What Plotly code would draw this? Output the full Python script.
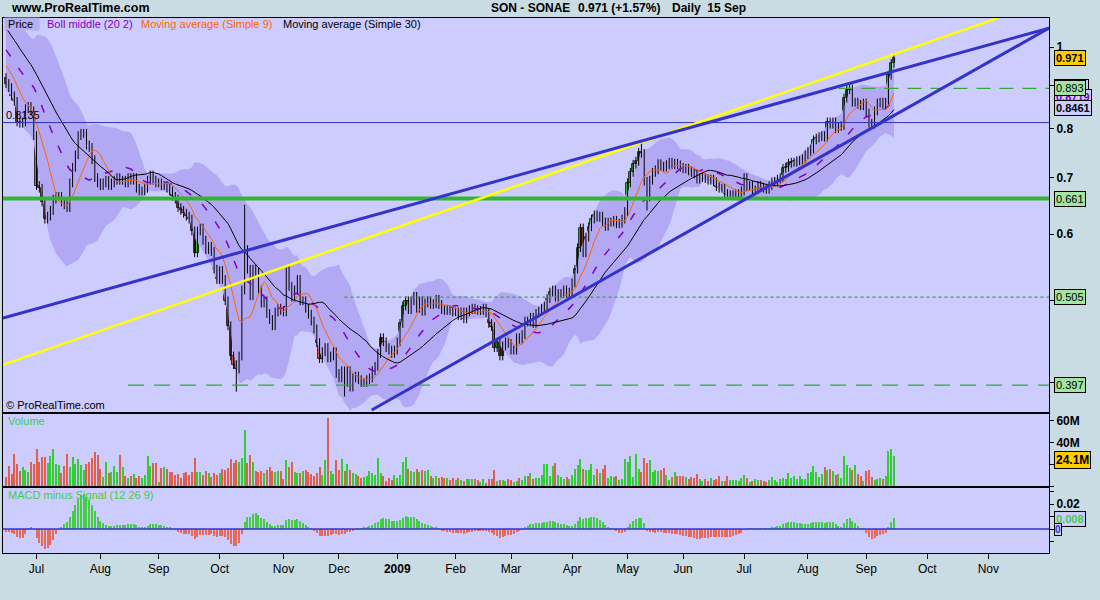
import numpy as np
import pandas as pd
import plotly.graph_objects as go
from plotly.subplots import make_subplots

FONT = "Liberation Sans"

# ---------------- data ----------------
holidays = ["2008-12-25", "2008-12-26", "2009-01-01", "2009-04-10", "2009-04-13", "2009-05-01"]
first_session = "2008-06-16"
last_session = "2009-09-15"

# closes before the visible window, estimated from where the averages start at the left edge
warmup_closes = [1.22, 1.21, 1.20, 1.19, 1.18, 1.17, 1.16, 1.15, 1.14, 1.13,
                 1.10, 1.08, 1.06, 1.05, 1.04, 1.02, 1.01, 1.00, 0.99, 0.98, 0.97,
                 0.98, 0.99, 0.97, 0.96, 0.95, 0.94, 0.93, 0.92]

close_2008_06 = [0.905, 0.895, 0.875, 0.862, 0.815, 0.812, 0.815, 0.845, 0.85, 0.84, 0.785]
close_2008_07 = [0.685, 0.68, 0.655, 0.625, 0.63, 0.64, 0.66, 0.665, 0.665, 0.655, 0.65, 0.645,
                 0.69, 0.72, 0.745, 0.785, 0.79, 0.79, 0.765, 0.76, 0.735, 0.70, 0.69]
close_2008_08 = [0.685, 0.69, 0.695, 0.685, 0.69, 0.695, 0.70, 0.695, 0.695, 0.69, 0.70, 0.695,
                 0.70, 0.68, 0.675, 0.675, 0.68, 0.695, 0.705, 0.695, 0.69]
close_2008_09 = [0.69, 0.685, 0.685, 0.68, 0.675, 0.665, 0.66, 0.645, 0.64, 0.635, 0.63, 0.625,
                 0.605, 0.57, 0.605, 0.61, 0.59, 0.575, 0.58, 0.572, 0.545, 0.53]
close_2008_10 = [0.543, 0.53, 0.50, 0.467, 0.43, 0.42, 0.415, 0.43, 0.515, 0.575, 0.545, 0.507,
                 0.545, 0.54, 0.515, 0.497, 0.50, 0.483, 0.475, 0.467, 0.485, 0.49, 0.487]
close_2008_11 = [0.485, 0.544, 0.52, 0.505, 0.515, 0.53, 0.50, 0.50, 0.49, 0.482, 0.473, 0.463,
                 0.446, 0.427, 0.435, 0.44, 0.428, 0.43, 0.435, 0.41]
close_2008_12 = [0.405, 0.413, 0.40, 0.413, 0.395, 0.405, 0.407, 0.403, 0.40, 0.40, 0.403, 0.405,
                 0.413, 0.418, 0.433, 0.452, 0.447, 0.44, 0.437, 0.433, 0.437]
close_2009_01 = [0.447, 0.47, 0.493, 0.50, 0.488, 0.50, 0.506, 0.49, 0.50, 0.486, 0.497, 0.50,
                 0.495, 0.496, 0.502, 0.495, 0.488, 0.487, 0.488, 0.487, 0.485]
close_2009_02 = [0.485, 0.48, 0.485, 0.476, 0.485, 0.488, 0.49, 0.488, 0.487, 0.487, 0.49, 0.484,
                 0.47, 0.466, 0.44, 0.447, 0.43, 0.442, 0.447, 0.445]
close_2009_03 = [0.437, 0.437, 0.452, 0.45, 0.456, 0.473, 0.472, 0.478, 0.47, 0.483, 0.486, 0.49,
                 0.493, 0.503, 0.512, 0.515, 0.505, 0.51, 0.51, 0.515, 0.51, 0.512]
close_2009_04 = [0.525, 0.545, 0.578, 0.61, 0.57, 0.595, 0.612, 0.625, 0.632, 0.628, 0.63, 0.62,
                 0.613, 0.62, 0.62, 0.623, 0.617, 0.618, 0.625, 0.638]
close_2009_05 = [0.69, 0.71, 0.726, 0.732, 0.75, 0.748, 0.693, 0.664, 0.695, 0.71, 0.715, 0.727,
                 0.722, 0.72, 0.725, 0.73, 0.725, 0.728, 0.725, 0.72]
close_2009_06 = [0.717, 0.718, 0.713, 0.71, 0.707, 0.697, 0.70, 0.70, 0.698, 0.695, 0.697, 0.692,
                 0.683, 0.68, 0.68, 0.67, 0.667, 0.668, 0.668, 0.67, 0.67, 0.675]
close_2009_07 = [0.70, 0.683, 0.685, 0.675, 0.677, 0.685, 0.682, 0.68, 0.678, 0.685, 0.692, 0.693,
                 0.697, 0.70, 0.718, 0.72, 0.728, 0.73, 0.73, 0.733, 0.734, 0.737, 0.745]
close_2009_08 = [0.752, 0.757, 0.776, 0.78, 0.783, 0.785, 0.782, 0.815, 0.81, 0.815, 0.80, 0.805,
                 0.807, 0.87, 0.89, 0.892, 0.86, 0.86, 0.855, 0.852, 0.858]
close_2009_09 = [0.835, 0.812, 0.81, 0.84, 0.858, 0.86, 0.855, 0.86, 0.926, 0.956, 0.971]

high_overrides = {"2008-10-14": 0.65, "2009-05-11": 0.775, "2009-08-24": 0.906, "2009-09-15": 0.98}
low_overrides = {"2008-10-09": 0.39, "2008-12-03": 0.385, "2009-05-13": 0.64}

# volume, millions of shares
volume_m = [
    8.6, 18.3, 11.0, 29.3, 20.2, 14.1, 17.1, 14.7, 13.1, 22.3,
    20.2, 33.9, 22.3, 26.3, 26.3, 20.8, 27.8, 33.9, 20.2, 19.2,
    12.2, 18.3, 29.3, 17.1, 26.9, 20.2, 24.7, 19.2, 14.7, 20.2,
    21.7, 25.4, 31.2, 28.4, 15.3, 8.6, 22.0, 12.2, 13.1, 18.3,
    13.1, 28.4, 17.7, 9.2, 7.0, 9.5, 11.0, 7.0, 9.2, 7.0,
    9.8, 27.5, 18.3, 21.4, 20.8, 4.0, 16.2, 17.1, 15.3, 13.1,
    13.1, 9.8, 11.0, 7.3, 11.6, 13.1, 10.4, 13.1,
    25.7, 13.1, 12.5, 9.8, 14.1, 12.2, 8.6, 12.2, 10.1,
    12.2, 15.3, 14.7, 16.2, 24.7, 20.8, 23.8, 22.3, 25.4,
    51.3,
    21.4, 28.4, 22.3, 14.1, 13.1, 14.1, 12.2, 14.7, 17.7, 14.1,
    13.1, 14.1, 13.7, 6.4, 23.8, 17.1, 21.7, 13.1, 11.6, 11.6,
    13.7, 14.7, 13.1, 10.7, 9.5, 11.6, 17.1, 10.1, 23.8,
    62.6,
    13.7, 11.0, 23.8, 14.7, 24.4, 14.1, 20.2, 14.7, 12.2, 11.0, 9.2, 7.0, 8.6,
    9.2, 14.1, 11.6, 10.1, 25.4,
    12.2, 9.2, 4.9, 7.0, 5.5, 10.1, 7.3, 10.1, 22.3, 26.9,
    15.3, 13.7, 13.1, 15.9, 13.1, 14.7, 13.7, 14.7, 9.5, 7.0, 9.5, 7.0, 7.9,
    7.0, 7.6, 5.5, 7.0, 5.5, 7.0, 5.5, 4.9, 6.1, 6.4, 6.4,
    6.4,
    5.5, 4.0, 6.1, 3.1, 6.1, 6.7, 14.7,
    4.9,
    5.5, 5.5, 4.6, 6.0, 5.5, 4.0, 4.6, 7.6, 5.5, 9.2, 9.2, 11.6, 6.1, 7.0, 7.6, 10.1, 20.2, 20.2,
    8.9, 18.0, 21.1, 9.8, 8.2, 6.1, 8.2, 6.7, 9.8, 15.3,
    18.9, 24.4, 15.3, 14.4, 14.4, 19.9, 9.8, 15.3, 11.9, 15.3,
    18.9, 7.0, 8.9, 8.2, 8.9, 5.8, 6.7, 24.4, 22.0, 27.2,
    8.2, 29.3, 15.3, 13.1, 25.7, 21.1, 23.5, 12.8, 14.4, 13.7,
    14.4, 16.8, 9.8, 5.8, 8.2, 13.1, 8.9, 8.9, 8.9, 8.2,
    6.7, 8.2, 7.3, 10.7, 6.7, 4.6, 6.1, 4.3, 7.6, 5.2,
    6.7, 8.9, 4.3, 4.6, 8.9, 5.2, 5.2, 5.2, 4.6, 7.6,
    9.8, 7.6, 3.7, 4.6, 6.1, 5.2, 5.2, 4.6, 3.7, 5.2,
    8.2, 5.2, 3.7, 6.7, 7.6, 6.7, 11.9, 7.3, 8.9, 6.1,
    9.2, 6.1, 6.1, 11.9, 12.8, 18.0, 13.1, 8.2, 10.7, 17.4,
    14.4, 15.9, 13.4, 9.8, 11.3, 7.6, 27.5, 18.9, 16.2, 14.4,
    18.9, 11.3, 9.2, 4.6, 13.4, 14.4, 8.2, 5.2, 6.7, 7.6,
    6.7, 8.9, 32.1, 33.6, 27.2,
]

month_tick_dates = ["2008-07-01", "2008-08-01", "2008-09-01", "2008-10-01", "2008-11-03", "2008-12-01",
                    "2009-01-02", "2009-02-02", "2009-03-02", "2009-04-01", "2009-05-04", "2009-06-01",
                    "2009-07-01", "2009-08-03", "2009-09-01", "2009-10-01", "2009-11-02"]
month_tick_labels = ["Jul", "Aug", "Sep", "Oct", "Nov", "Dec", "<b>2009</b>", "Feb", "Mar", "Apr", "May",
                     "Jun", "Jul", "Aug", "Sep", "Oct", "Nov"]
x_range = ["2008-06-12 22:00", "2009-12-01 21:00"]

# drawn levels and trend lines
level_thin_blue = 0.8135
level_thick_green = 0.661
dashed_levels = [(0.893, "2009-08-18", "14px,9px"), (0.505, "2008-12-03", "dot"), (0.397, "2008-08-15", "16px,10px")]
trend_blue_upper = [("2008-06-12 22:00", 0.477), ("2009-12-01 21:00", 1.053)]
trend_blue_lower = [("2008-12-16 19:00", 0.371), ("2009-12-01 21:00", 1.053)]
trend_yellow = [("2008-06-12 22:00", 0.4196), ("2009-11-05 12:00", 1.0824)]

price_label_vals = [0.971, 0.893, 0.661, 0.505, 0.397]
ma_label_texts = ["0.8818", "0.8719", "0.8461"]
volume_label = 24.1
macd_label = 0.008

# ---------------- build series ----------------
closes = np.array(close_2008_06 + close_2008_07 + close_2008_08 + close_2008_09 + close_2008_10 +
                  close_2008_11 + close_2008_12 + close_2009_01 + close_2009_02 + close_2009_03 +
                  close_2009_04 + close_2009_05 + close_2009_06 + close_2009_07 + close_2009_08 +
                  close_2009_09)
dates = pd.bdate_range(first_session, last_session)
dates = dates[~dates.isin(pd.to_datetime(holidays))]
n = min(len(dates), len(closes), len(volume_m))
dates, closes = dates[:n], closes[:n]
vol = np.array(volume_m[:n])

opens = np.r_[warmup_closes[-1], closes[:-1]]
wick = 0.012
highs = np.maximum(opens, closes) * (1 + wick)
lows = np.minimum(opens, closes) * (1 - wick)
dstr = [d.strftime("%Y-%m-%d") for d in dates]
for k, v in high_overrides.items():
    if k in dstr:
        highs[dstr.index(k)] = v
for k, v in low_overrides.items():
    if k in dstr:
        lows[dstr.index(k)] = v

full = pd.Series(list(warmup_closes) + list(closes))
w = len(warmup_closes)
ma9 = full.rolling(9).mean().values[w:]
ma20 = full.rolling(20, min_periods=10).mean().values[w:]
sd20 = full.rolling(20, min_periods=10).std(ddof=0).values[w:]
ma30 = full.rolling(30, min_periods=20).mean().values[w:]
ema12 = full.ewm(span=12, adjust=False).mean()
ema26 = full.ewm(span=26, adjust=False).mean()
macd = ema12 - ema26
signal = macd.ewm(span=9, adjust=False).mean()
hist = (macd - signal).values[w:]

# ---------------- figure ----------------
BG = "#c9dce4"
PLOT = "#ccccff"
UP = "#33cc33"
DOWN = "#e06050"
fig = make_subplots(rows=3, cols=1, shared_xaxes=True, vertical_spacing=0)

# Bollinger envelope
fig.add_trace(go.Scatter(x=dates, y=ma20 + 2 * sd20, mode="lines", line=dict(width=0),
                         hoverinfo="skip"), row=1, col=1)
fig.add_trace(go.Scatter(x=dates, y=ma20 - 2 * sd20, mode="lines", line=dict(width=0),
                         fill="tonexty", fillcolor="#b3a8f4", hoverinfo="skip"), row=1, col=1)

# candles: wicks then bodies
wx, wy = [], []
for d, lo, hi in zip(dates, lows, highs):
    wx += [d, d, None]
    wy += [lo, hi, None]
fig.add_trace(go.Scatter(x=wx, y=wy, mode="lines", line=dict(color="black", width=1),
                         hoverinfo="skip"), row=1, col=1)
body_lo = np.minimum(opens, closes)
body_hi = np.maximum(opens, closes)
body_sz = np.maximum(body_hi - body_lo, body_lo * 0.003)
ccol = np.where(closes >= opens, UP, DOWN)
fig.add_trace(go.Bar(x=dates, y=body_sz, base=body_lo, width=0.8 * 86400000,
                     marker=dict(color=ccol, line=dict(color="black", width=0.8)),
                     hoverinfo="skip"), row=1, col=1)

# moving averages
fig.add_trace(go.Scatter(x=dates, y=ma20, mode="lines",
                         line=dict(color="#8000c0", width=1.5, dash="8px,14px")), row=1, col=1)
fig.add_trace(go.Scatter(x=dates, y=ma9, mode="lines", line=dict(color="#ff6600", width=1)), row=1, col=1)
fig.add_trace(go.Scatter(x=dates, y=ma30, mode="lines", line=dict(color="black", width=1)), row=1, col=1)

# drawn levels and trend lines (as line traces through the axes)
def seg(xs, ys, color, width, dash="solid"):
    fig.add_trace(go.Scatter(x=xs, y=ys, mode="lines", line=dict(color=color, width=width, dash=dash),
                             hoverinfo="skip"), row=1, col=1)

seg(x_range, [level_thin_blue] * 2, "#3333bb", 1)
seg(x_range, [level_thick_green] * 2, "#33b533", 4)
for val, start, dash in dashed_levels:
    seg([start, x_range[1]], [val, val], "#33aa33", 1.3, dash)
seg([p[0] for p in trend_yellow], [p[1] for p in trend_yellow], "#ffff00", 2.5)
seg([p[0] for p in trend_blue_upper], [p[1] for p in trend_blue_upper], "#3333cc", 3)
seg([p[0] for p in trend_blue_lower], [p[1] for p in trend_blue_lower], "#3333cc", 3)

# volume and MACD histogram
bar_w = 0.38 * 86400000
fig.add_trace(go.Bar(x=dates, y=vol, marker=dict(color=ccol, line=dict(width=0)), width=bar_w), row=2, col=1)
hcol = np.where(hist >= 0, "#44cc44", "#e86a5a")
fig.add_trace(go.Bar(x=dates, y=hist, marker=dict(color=hcol, line=dict(width=0)), width=bar_w), row=3, col=1)
fig.add_trace(go.Scatter(x=x_range, y=[0, 0], mode="lines", line=dict(color="#3333cc", width=1.5),
                         hoverinfo="skip"), row=3, col=1)

L = np.log10
ann = []
def txt(x, y, text, size=11, color="black", xref="paper", yref="paper", xanchor="left", yanchor="middle",
        bg=None, border=None, bold=False, pad=1):
    d = dict(x=x, y=y, xref=xref, yref=yref, text=text, showarrow=False, xanchor=xanchor, yanchor=yanchor,
             font=dict(family=FONT, size=size, color=color, weight="bold" if bold else "normal"), borderpad=pad)
    if bg:
        d["bgcolor"] = bg
    if border:
        d["bordercolor"] = border
        d["borderwidth"] = 1
    ann.append(d)

px = lambda p: (p - 3) / 1046.0
py = lambda p: (553 - p) / 535.0

txt(px(9), py(8), "www.ProRealTime.com", size=12.5, bold=True)
txt(px(489), py(8), "SON - SONAE", size=12, bold=True)
txt(px(576), py(8), "0.971 (+1.57%)", size=12, bold=True)
txt(px(670), py(8), "Daily  15 Sep", size=12, bold=True)

txt(px(4), py(23.5), " Price  ", bg="#b6aef0", pad=0)
txt(px(45), py(23.5), "Boll middle (20 2)", color="#8000c0")
txt(px(139), py(23.5), "Moving average (Simple 9)", color="#ff6600")
txt(px(281), py(23.5), "Moving average (Simple 30)")
txt(px(4), L(level_thin_blue), "0.8135", yref="y", yanchor="bottom")
txt(px(4), py(405), "© ProRealTime.com")
txt(px(6), py(421), "Volume", color="#44cc44")
txt(px(6), py(495), "MACD minus Signal (12 26 9)", color="#44cc44")

LX = px(1054)
txt(LX, L(0.897), ma_label_texts[0], yref="y", bg=PLOT, border="black", color="#ff6600", bold=True, size=10)
txt(LX, L(0.8719), ma_label_texts[1], yref="y", bg=PLOT, border="black", color="#8000c0", bold=True)
txt(LX, L(0.8461), ma_label_texts[2], yref="y", bg=PLOT, border="black", color="black", bold=True)
txt(LX, L(price_label_vals[0]), f"{price_label_vals[0]:.3f}", yref="y", bg="#ffcc00", border="black", bold=True)
for v in price_label_vals[1:]:
    txt(LX, L(v), f"{v:.3f}", yref="y", bg="#a3e4a3", border="black")
txt(LX, volume_label, f"{volume_label}M", yref="y2", bg="#ffcc00", border="black", bold=True, size=12)
txt(LX, macd_label, f"{macd_label:.3f}", yref="y3", bg=PLOT, border="black", color="#44cc44", bold=True)
txt(LX, 0, "0", yref="y3", bg=PLOT, border="black", color="#3333cc", bold=True, size=10, pad=0)
fig.update_layout(annotations=ann)

rb = [dict(bounds=["sat", "mon"]), dict(values=holidays)]
axis_common = dict(showline=True, linecolor="black", linewidth=1, mirror=True, showgrid=False, zeroline=False)
for r in (1, 2, 3):
    fig.update_xaxes(row=r, col=1, type="date", range=x_range, rangebreaks=rb, rangeslider_visible=False,
                     tickvals=month_tick_dates, ticktext=month_tick_labels,
                     ticks="outside" if r == 3 else "", ticklen=5, tickcolor="black",
                     showticklabels=(r == 3), tickfont=dict(family=FONT, size=12, color="black"), **axis_common)

tickfont = dict(family=FONT, size=12, color="black", weight="bold")
fig.update_yaxes(row=1, col=1, type="log", range=[-0.433, 0.0344], side="right",
                 tickvals=[0.4, 0.5, 0.6, 0.7, 0.8, 0.9, 1.0], ticktext=["0.4", "0.5", "0.6", "0.7", "0.8", "0.9", "1"],
                 ticks="outside", ticklen=4, tickcolor="black", tickfont=tickfont, domain=[py(412), 1], **axis_common)
fig.update_yaxes(row=2, col=1, range=[0, 66], side="right", tickvals=[0, 20, 40, 60],
                 ticktext=["", "20M", "40M", "60M"], ticks="outside", ticklen=4, tickcolor="black",
                 tickfont=tickfont, domain=[py(486), py(414)], **axis_common)
fig.update_yaxes(row=3, col=1, range=[-0.0192, 0.0328], side="right", tickvals=[-0.01, 0, 0.01, 0.02, 0.03],
                 ticktext=["", "", "", "0.02", ""], ticks="outside", ticklen=4, tickcolor="black",
                 tickfont=tickfont, domain=[0, py(488)], **axis_common)

fig.update_layout(width=1100, height=600, paper_bgcolor=BG, plot_bgcolor=PLOT, showlegend=False,
                  margin=dict(l=3, r=51, t=18, b=47), bargap=0, barmode="overlay", hovermode=False,
                  font=dict(family=FONT, size=11, color="black"))

fig.write_html("out.html", config={"displayModeBar": False},
               post_script="document.body.style.margin='0px';document.body.style.background='%s';" % BG)
